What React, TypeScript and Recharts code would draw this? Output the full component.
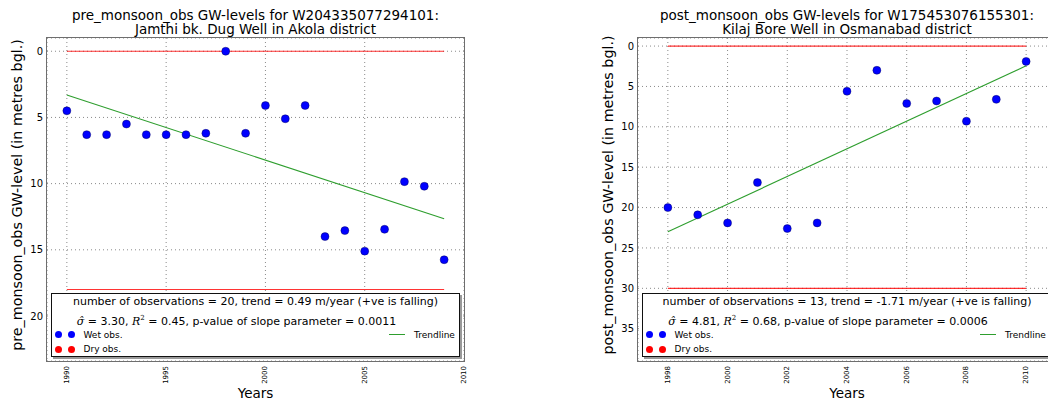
import { ComposedChart, Scatter, Line, XAxis, YAxis, CartesianGrid } from 'recharts'

const FONT = '"DejaVu Sans", Verdana, sans-serif'

// pre-monsoon, Jamthi bk. dug well (Akola)
const preYears = [1990, 1991, 1992, 1993, 1994, 1995, 1996, 1997, 1998, 1999, 2000, 2001, 2002, 2003, 2004, 2005, 2006, 2007, 2008, 2009]
const preLevels = [4.5, 6.3, 6.3, 5.5, 6.3, 6.3, 6.3, 6.2, 0.0, 6.2, 4.1, 5.1, 4.1, 14.0, 13.55, 15.1, 13.45, 9.85, 10.2, 15.75]
const preTrend = [3.31, 12.65]
const preLimits = [0, 18]
const preXTicks = [1990, 1995, 2000, 2005, 2010]
const preYTicks = [0, 5, 10, 15, 20]

// post-monsoon, Kilaj bore well (Osmanabad)
const postYears = [1998, 1999, 2000, 2001, 2002, 2003, 2004, 2005, 2006, 2007, 2008, 2009, 2010]
const postLevels = [20.0, 20.9, 21.9, 16.9, 22.6, 21.9, 5.6, 3.0, 7.1, 6.8, 9.3, 6.6, 1.9]
const postTrend = [23.0, 2.45]
const postLimits = [0, 30]
const postXTicks = [1998, 2000, 2002, 2004, 2006, 2008, 2010]
const postYTicks = [0, 5, 10, 15, 20, 25, 30, 35]

const H = 403
const PLOT_TOP = 38
const PLOT_BOTTOM = 361

interface PanelProps {
  left: number
  width: number
  plotLeft: number
  plotRight: number
  title: string[]
  yLabel: string
  years: number[]
  levels: number[]
  trend: number[]
  limits: number[]
  xDomain: [number, number]
  yDomain: [number, number]
  xTicks: number[]
  yTicks: number[]
  nObs: number
  slope: string
  sigma: string
  r2: string
  pValue: string
}

const XTick = ({ x, y, payload }: any) => (
  <text
    x={x}
    y={y}
    transform={`rotate(-90 ${x} ${y})`}
    textAnchor="end"
    dominantBaseline="central"
    fontSize={7}
    fontFamily={FONT}
    fill="#000"
  >
    {payload.value}
  </text>
)

const dot = (props: any) => (
  <circle cx={props.cx} cy={props.cy} r={4} fill="#0000ff" stroke="#000044" strokeWidth={0.4} />
)

function WellPanel(p: PanelProps) {
  const yAxisW = 40
  const xAxisH = 30
  const margin = {
    top: PLOT_TOP,
    right: p.width - p.plotRight,
    bottom: H - PLOT_BOTTOM - xAxisH,
    left: p.plotLeft - yAxisW,
  }
  const first = p.years[0]
  const last = p.years[p.years.length - 1]
  const points = p.years.map((x, i) => ({ x, y: p.levels[i] }))
  const trendData = [
    { x: first, y: p.trend[0] },
    { x: last, y: p.trend[1] },
  ]
  const limitData = p.limits.map((v) => [
    { x: first, y: v },
    { x: last, y: v },
  ])
  const plotW = p.plotRight - p.plotLeft
  const plotCx = p.plotLeft + plotW / 2

  return (
    <div style={{ position: 'absolute', left: p.left, top: 0, width: p.width, height: H, fontFamily: FONT, color: '#000' }}>
      <ComposedChart width={p.width} height={H} margin={margin}>
        <CartesianGrid stroke="#8a8a8a" strokeDasharray="1 3" />
        <XAxis
          type="number"
          dataKey="x"
          domain={p.xDomain}
          ticks={p.xTicks}
          allowDataOverflow
          height={xAxisH}
          axisLine={false}
          tickLine={false}
          tickSize={3}
          tickMargin={2}
          tick={<XTick />}
          interval={0}
        />
        <YAxis
          type="number"
          dataKey="y"
          reversed
          domain={p.yDomain}
          ticks={p.yTicks}
          allowDataOverflow
          width={yAxisW}
          axisLine={false}
          tickLine={false}
          tickSize={2}
          tickMargin={2}
          interval={0}
          tick={{ fontSize: 10, fill: '#000', fontFamily: FONT }}
        />
        {limitData.map((d, i) => (
          <Line
            key={i}
            data={d}
            dataKey="y"
            type="linear"
            stroke="#ff0000"
            strokeOpacity={0.8}
            strokeWidth={1.2}
            dot={false}
            isAnimationActive={false}
          />
        ))}
        <Line
          data={trendData}
          dataKey="y"
          type="linear"
          stroke="#2e9e2e"
          strokeWidth={1.1}
          dot={false}
          isAnimationActive={false}
        />
        <Scatter data={points} shape={dot} isAnimationActive={false} />
      </ComposedChart>

      {/* axes frame */}
      <div
        style={{
          position: 'absolute',
          left: p.plotLeft - 1,
          top: PLOT_TOP - 1,
          width: plotW + 2,
          height: PLOT_BOTTOM - PLOT_TOP + 2,
          boxSizing: 'border-box',
          border: '1.6px solid #6e6e6e',
          pointerEvents: 'none',
        }}
      />

      <div style={{ position: 'absolute', left: p.plotLeft - 40, width: plotW + 80, top: 7.5, textAlign: 'center', fontSize: 13.5, lineHeight: '14.3px', whiteSpace: 'nowrap' }}>
        {p.title.map((t) => (
          <div key={t}>{t}</div>
        ))}
      </div>

      <div
        style={{
          position: 'absolute',
          left: p.plotLeft - 30,
          top: 195,
          fontSize: 14.3,
          lineHeight: '15px',
          whiteSpace: 'nowrap',
          transform: 'translate(-50%, -50%) rotate(-90deg)',
        }}
      >
        {p.yLabel}
      </div>

      <div style={{ position: 'absolute', left: plotCx - 40, width: 80, top: 386, textAlign: 'center', fontSize: 13.5, lineHeight: '15px' }}>
        Years
      </div>

      <div
        style={{
          position: 'absolute',
          left: p.plotLeft + 4,
          top: 292.5,
          width: plotW - 8,
          height: 64,
          boxSizing: 'border-box',
          border: '1.3px solid #111',
          background: '#fff',
          boxShadow: '2px 2px 0 #9a9a9a',
        }}
      >
        <div style={{ position: 'absolute', left: 0, right: 0, top: 1, textAlign: 'center', fontSize: 11, lineHeight: '14px', whiteSpace: 'nowrap' }}>
          number of observations = {p.nObs}, trend = {p.slope} m/year (+ve is falling)
        </div>
        <div style={{ position: 'absolute', left: 0, right: 38, top: 17, textAlign: 'center', fontSize: 11, lineHeight: '14px', whiteSpace: 'nowrap' }}>
          <span style={{ fontFamily: '"DejaVu Serif", serif', fontStyle: 'italic' }}>σ̂</span> = {p.sigma},{' '}
          <span style={{ fontFamily: '"DejaVu Serif", serif', fontStyle: 'italic' }}>R</span>
          <sup style={{ fontSize: 7, fontFamily: '"DejaVu Serif", serif', verticalAlign: 5 }}>2</sup>
          {'  '}= {p.r2}, p-value of slope parameter = {p.pValue}
        </div>
        {[
          { label: 'Wet obs.', color: '#0000ff', top: 34 },
          { label: 'Dry obs.', color: '#ff0000', top: 48.5 },
        ].map((e) => (
          <div key={e.label} style={{ position: 'absolute', left: 2, top: e.top, height: 14, display: 'flex', alignItems: 'center', fontSize: 9 }}>
            <span style={{ width: 7, height: 7, borderRadius: '50%', background: e.color, marginLeft: 1 }} />
            <span style={{ width: 7, height: 7, borderRadius: '50%', background: e.color, marginLeft: 5.5 }} />
            <span style={{ marginLeft: 9 }}>{e.label}</span>
          </div>
        ))}
        <div style={{ position: 'absolute', left: 337, top: 34, height: 14, display: 'flex', alignItems: 'center', fontSize: 9 }}>
          <span style={{ width: 16, height: 1.2, background: '#2e9e2e' }} />
          <span style={{ marginLeft: 9 }}>Trendline</span>
        </div>
      </div>
    </div>
  )
}

export default function App() {
  return (
    <div style={{ position: 'absolute', left: 0, top: 0, width: 1048, height: H, overflow: 'hidden', background: '#fff' }}>
      <WellPanel
        left={0}
        width={520}
        plotLeft={47}
        plotRight={464}
        title={['pre_monsoon_obs GW-levels for W204335077294101:', 'Jamthi bk. Dug Well in Akola district']}
        yLabel="pre_monsoon_obs GW-level (in metres bgl.)"
        years={preYears}
        levels={preLevels}
        trend={preTrend}
        limits={preLimits}
        xDomain={[1989, 2010]}
        yDomain={[-1, 23.4]}
        xTicks={preXTicks}
        yTicks={preYTicks}
        nObs={20}
        slope="0.49"
        sigma="3.30"
        r2="0.45"
        pValue="0.0011"
      />
      <WellPanel
        left={560}
        width={540}
        plotLeft={78}
        plotRight={496}
        title={['post_monsoon_obs GW-levels for W175453076155301:', 'Kilaj Bore Well in Osmanabad district']}
        yLabel="post_monsoon_obs GW-level (in metres bgl.)"
        years={postYears}
        levels={postLevels}
        trend={postTrend}
        limits={postLimits}
        xDomain={[1997, 2011]}
        yDomain={[-1, 39]}
        xTicks={postXTicks}
        yTicks={postYTicks}
        nObs={13}
        slope="-1.71"
        sigma="4.81"
        r2="0.68"
        pValue="0.0006"
      />
    </div>
  )
}
